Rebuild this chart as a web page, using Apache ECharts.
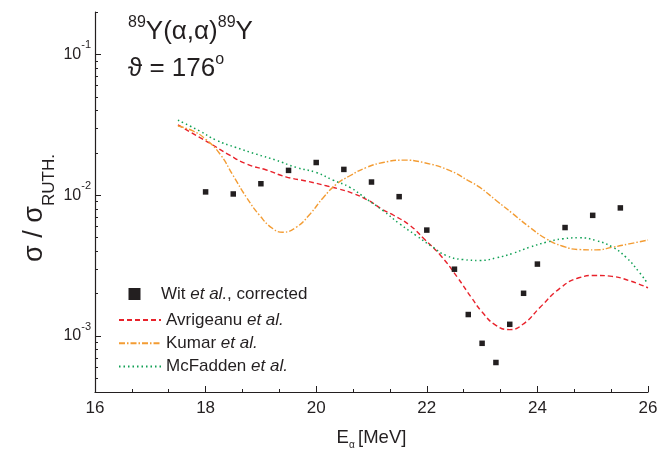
<!DOCTYPE html>
<html><head><meta charset="utf-8">
<script src="https://cdn.jsdelivr.net/npm/echarts@6/dist/echarts.min.js"></script>
<style>html,body{margin:0;padding:0;background:#fff}#c{width:670px;height:451px}</style>
</head><body><div id="c"></div>
<script>
const FONT = '"Liberation Sans", Arial, Helvetica, sans-serif';

// Experimental data (Wit et al., corrected)
const witE   = [18, 18.5, 19, 19.5, 20, 20.5, 21, 21.5, 22, 22.5, 22.75, 23, 23.25, 23.5, 23.75, 24, 24.5, 25, 25.5];
const witVal = [0.01055, 0.0102, 0.01206, 0.0150, 0.01706, 0.01524, 0.0124, 0.00976, 0.00565, 0.00298, 0.00142, 0.000887, 0.000648, 0.00121, 0.00201, 0.00324, 0.00589, 0.00719, 0.00812];

// Avrigeanu et al.
const avrE   = [17.5, 17.9, 18.1, 18.4, 18.75, 19.1, 19.45, 19.85, 20.2, 20.4, 20.65, 20.95, 21.2, 21.4, 21.7, 21.95, 22.25, 22.55, 22.8, 23.0, 23.25, 23.5, 23.75, 24.05, 24.4, 24.75, 25.05, 25.35, 25.65, 26.0];
const avrVal = [0.0316, 0.0256, 0.0231, 0.0196, 0.0166, 0.0151, 0.0135, 0.01253, 0.01161, 0.01110, 0.01035, 0.00915, 0.00790, 0.00720, 0.00608, 0.0049, 0.00373, 0.00262, 0.00189, 0.00148, 0.00119, 0.00111, 0.00122, 0.0016, 0.00217, 0.00259, 0.00269, 0.00265, 0.00248, 0.0022];

// Kumar et al.
const kumE   = [17.5, 17.77, 18.0, 18.26, 18.5, 18.74, 18.98, 19.22, 19.4, 19.64, 19.89, 20.13, 20.37, 20.61, 20.91, 21.21, 21.57, 21.94, 22.42, 22.75, 22.96, 23.26, 23.56, 23.86, 24.16, 24.46, 24.76, 25.06, 25.36, 25.66, 26.0];
const kumVal = [0.0310, 0.0286, 0.0250, 0.0196, 0.01374, 0.00964, 0.00716, 0.00577, 0.00546, 0.00592, 0.00736, 0.00964, 0.0120, 0.01374, 0.01574, 0.01706, 0.01774, 0.01706, 0.01493, 0.01268, 0.01135, 0.00914, 0.00736, 0.00592, 0.0049, 0.00434, 0.00411, 0.00409, 0.00427, 0.00451, 0.0048];

// McFadden et al.
const mcfE   = [17.5, 17.89, 18.19, 18.55, 18.91, 19.27, 19.64, 20.0, 20.3, 20.61, 20.91, 21.21, 21.51, 21.81, 22.11, 22.35, 22.65, 22.96, 23.26, 23.56, 23.86, 24.16, 24.46, 24.76, 25.06, 25.36, 25.6, 25.84, 26.0];
const mcfVal = [0.0341, 0.0286, 0.0246, 0.0218, 0.0196, 0.01774, 0.01574, 0.01449, 0.01282, 0.01135, 0.0094, 0.00776, 0.00625, 0.00516, 0.00427, 0.00373, 0.00349, 0.00344, 0.00359, 0.00387, 0.00427, 0.00463, 0.0049, 0.00498, 0.00476, 0.00427, 0.00363, 0.00284, 0.00234];

// Axis ranges / ticks
const yMinVal = 4e-4, yMaxVal = 0.2;
const yMajorTicks = [1e-3, 1e-2, 1e-1];
const yMinorTicks = [4e-4,5e-4,6e-4,7e-4,8e-4,9e-4, 2e-3,3e-3,4e-3,5e-3,6e-3,7e-3,8e-3,9e-3, 2e-2,3e-2,4e-2,5e-2,6e-2,7e-2,8e-2,9e-2, 0.2];

const names = ['Wit et al., corrected', 'Avrigeanu et al.', 'Kumar et al.', 'McFadden et al.'];

const lg = Math.log10;
const pairs = (xs, ys) => xs.map((x, i) => [x, lg(ys[i])]);

const chart = echarts.init(document.getElementById('c'), null, {renderer: 'canvas'});
const axisColor = '#231f20';
const legendText = {
  fontFamily: FONT, fontSize: 17, color: '#231f20', lineHeight: 20,
  rich: { i: { fontFamily: FONT, fontSize: 17, fontStyle: 'italic', color: '#231f20', lineHeight: 20 } }
};
const legendFmt = n => n.replace('et al.', '{i|et al.}');

chart.setOption({
  animation: false,
  backgroundColor: '#fff',
  grid: { left: 95, right: 22, top: 12, bottom: 59, containLabel: false, outerBoundsMode: 'none' },
  xAxis: {
    type: 'value', min: 16, max: 26, interval: 2,
    axisLine: { lineStyle: { color: axisColor, width: 1.2 } },
    axisTick: { inside: true, length: 6, lineStyle: { color: axisColor, width: 1 } },
    minorTick: { show: true, splitNumber: 3, length: 3, lineStyle: { color: axisColor, width: 1 } },
    splitLine: { show: false },
    axisLabel: { fontFamily: FONT, fontSize: 17, color: '#231f20', margin: 8 },
    name: '{e|E}{s|α} {e|[MeV]}', nameLocation: 'middle', nameGap: 34,
    nameTextStyle: {
      rich: {
        e: { fontFamily: FONT, fontSize: 18.5, color: '#231f20', lineHeight: 24 },
        s: { fontFamily: FONT, fontSize: 10, color: '#231f20', verticalAlign: 'bottom', lineHeight: 8 }
      }
    }
  },
  yAxis: [{
    type: 'value', min: lg(yMinVal), max: lg(yMaxVal), position: 'left',
    axisLine: { show: true, lineStyle: { color: axisColor, width: 1.2 } },
    axisTick: { show: true, inside: true, length: 6, customValues: yMajorTicks.map(lg), lineStyle: { color: axisColor, width: 1 } },
    splitLine: { show: false },
    axisLabel: {
      customValues: yMajorTicks.map(lg), margin: 4,
      formatter: v => '{b|10}{s|' + Math.round(v) + '}',
      rich: {
        b: { fontFamily: FONT, fontSize: 16, color: '#231f20', lineHeight: 30 },
        s: { fontFamily: FONT, fontSize: 11, color: '#231f20', lineHeight: 12, verticalAlign: 'top' }
      }
    }
  }, {
    type: 'value', min: lg(yMinVal), max: lg(yMaxVal), position: 'left',
    axisLine: { show: false },
    axisTick: { show: true, inside: true, length: 3, customValues: yMinorTicks.map(lg), lineStyle: { color: axisColor, width: 1 } },
    splitLine: { show: false },
    axisLabel: { show: false }
  }],
  legend: [{
    left: 118, top: 284, orient: 'vertical', itemWidth: 38, itemHeight: 14, padding: 0,
    selectedMode: false,
    data: [{ name: names[0], icon: 'path://M0,0M38,0M38,14M0,14M10.5,1h12v12h-12z', itemStyle: { color: '#231f20', opacity: 1 } }],
    formatter: legendFmt, textStyle: legendText
  }, {
    left: 118, top: 310, orient: 'vertical', itemWidth: 42, itemHeight: 14, itemGap: 3.3, padding: 0,
    selectedMode: false,
    data: [
      { name: names[1], itemStyle: { opacity: 0 } },
      { name: names[2], itemStyle: { opacity: 0 } },
      { name: names[3], itemStyle: { opacity: 0 } }
    ],
    formatter: legendFmt, textStyle: legendText
  }],
  series: [{
    name: names[0], type: 'scatter', symbol: 'rect', symbolSize: 5.5,
    itemStyle: { color: '#231f20', opacity: 1 },
    data: pairs(witE, witVal), z: 5
  }, {
    name: names[1], type: 'line', smooth: true, symbol: 'none', showSymbol: false,
    lineStyle: { color: '#e8222b', width: 1.4, type: [5, 3] },
    itemStyle: { color: '#e8222b', opacity: 0 },
    data: pairs(avrE, avrVal)
  }, {
    name: names[2], type: 'line', smooth: true, symbol: 'none', showSymbol: false,
    lineStyle: { color: '#f39c33', width: 1.4, type: [6, 2, 1.5, 2] },
    itemStyle: { color: '#f39c33', opacity: 0 },
    data: pairs(kumE, kumVal)
  }, {
    name: names[3], type: 'line', smooth: true, symbol: 'none', showSymbol: false,
    lineStyle: { color: '#10a055', width: 1.5, type: [1.5, 3] },
    itemStyle: { color: '#10a055', opacity: 0 },
    data: pairs(mcfE, mcfVal)
  }],
  graphic: [{
    type: 'text', left: 128, top: 15,
    style: {
      text: '{s|89}{m|Y(α,α)}{s|89}{m|Y}',
      rich: {
        m: { fontFamily: FONT, fontSize: 26, fill: '#231f20', lineHeight: 34 },
        s: { fontFamily: FONT, fontSize: 16, fill: '#231f20', lineHeight: 15, verticalAlign: 'top' }
      }
    }
  }, {
    type: 'text', left: 128, top: 51.5,
    style: {
      text: '{m|ϑ = 176}{s|o}',
      rich: {
        m: { fontFamily: FONT, fontSize: 26, fill: '#231f20', lineHeight: 34 },
        s: { fontFamily: FONT, fontSize: 16, fill: '#231f20', lineHeight: 26, verticalAlign: 'top' }
      }
    }
  }, {
    type: 'text', x: 34.5, y: 208, rotation: Math.PI / 2,
    style: {
      text: '{a|σ / σ}{b|RUTH.}', textAlign: 'center', textVerticalAlign: 'middle',
      rich: {
        a: { fontFamily: FONT, fontSize: 27, fill: '#231f20', lineHeight: 46 },
        b: { fontFamily: FONT, fontSize: 17, fill: '#231f20', lineHeight: 16, verticalAlign: 'bottom' }
      }
    }
  }]
});
</script>
</body></html>
